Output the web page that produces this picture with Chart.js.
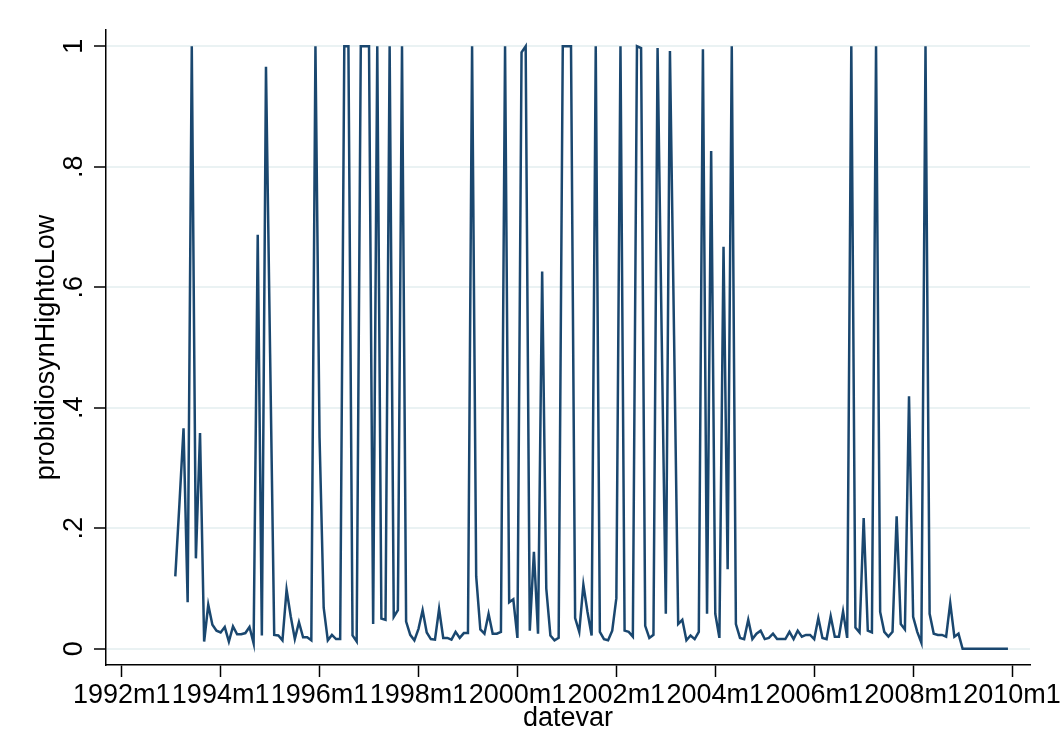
<!DOCTYPE html>
<html>
<head>
<meta charset="utf-8">
<script src="https://cdn.jsdelivr.net/npm/chart.js@4.4.1/dist/chart.umd.min.js"></script>
<style>
  html, body { margin: 0; padding: 0; background: #fff; }
  #wrap { width: 1060px; height: 736px; position: relative; }
</style>
</head>
<body>
<div id="wrap"><canvas id="myChart"></canvas></div>
<script>
// first month of the series, monthly data after that
const firstMonth = '1993m2'

// probidiosynHightoLow, one value per month, 1993m2 .. 2009m12
const probValues = [
  0.12, 0.24, 0.366, 0.077, 1.0, 0.15, 0.358, 0.012, 0.073, 0.04, 0.03,
  0.027, 0.036, 0.012, 0.037, 0.024, 0.024, 0.026, 0.036, 0.009, 0.687, 0.022, 0.966,
  0.49, 0.023, 0.022, 0.014, 0.098, 0.054, 0.016, 0.044, 0.019, 0.019, 0.014, 1.0,
  0.35, 0.068, 0.014, 0.023, 0.016, 0.016, 1.0, 1.0, 0.022, 0.012, 1.0, 1.0,
  1.0, 0.041, 1.0, 0.05, 0.048, 1.0, 0.053, 0.064, 1.0, 0.045, 0.023, 0.014,
  0.033, 0.064, 0.027, 0.016, 0.015, 0.066, 0.018, 0.018, 0.015, 0.028, 0.018, 0.026,
  0.026, 1.0, 0.12, 0.032, 0.025, 0.058, 0.025, 0.025, 0.028, 1.0, 0.077, 0.082,
  0.018, 0.99, 1.0, 0.03, 0.161, 0.025, 0.626, 0.1, 0.022, 0.014, 0.018, 1.0,
  1.0, 1.0, 0.051, 0.028, 0.106, 0.061, 0.022, 1.0, 0.028, 0.016, 0.014, 0.03,
  0.084, 1.0, 0.03, 0.028, 0.02, 1.0, 0.997, 0.038, 0.018, 0.023, 0.997, 0.52,
  0.058, 0.992, 0.52, 0.041, 0.048, 0.014, 0.022, 0.016, 0.028, 0.995, 0.058, 0.826,
  0.058, 0.018, 0.667, 0.132, 1.0, 0.041, 0.018, 0.016, 0.048, 0.016, 0.025, 0.03,
  0.016, 0.018, 0.025, 0.016, 0.016, 0.016, 0.028, 0.016, 0.03, 0.02, 0.023, 0.023,
  0.016, 0.051, 0.018, 0.016, 0.054, 0.02, 0.02, 0.062, 0.018, 1.0, 0.035, 0.027,
  0.217, 0.03, 0.027, 1.0, 0.061, 0.028, 0.02, 0.028, 0.22, 0.041, 0.032, 0.419,
  0.053, 0.028, 0.01, 1.0, 0.058, 0.025, 0.023, 0.023, 0.02, 0.076, 0.02, 0.025,
  0, 0, 0, 0, 0, 0, 0, 0, 0, 0, 0, 0
]

const xTickLabels = ['1992m1','1994m1','1996m1','1998m1','2000m1','2002m1','2004m1','2006m1','2008m1','2010m1']
const yTickValues = [0, 0.2, 0.4, 0.6, 0.8, 1]
const yTickLabels = ['0', '.2', '.4', '.6', '.8', '1']

// months counted from 1992m1
function monthIndex(s){
  var p = s.split('m')
  return (parseInt(p[0]) - 1992) * 12 + parseInt(p[1]) - 1
}

const start = monthIndex(firstMonth)
const points = probValues.map((v, i) => ({x: start + i, y: v}))
const xTickValues = xTickLabels.map(monthIndex)

const fontFamily = '"Liberation Sans", Arial, Helvetica, sans-serif'
const fontSize = 27
const navy = '#1a476f'

// Stata draws the y labels turned on their side
const rotatedYLabels = {
  id: 'rotatedYLabels',
  afterDraw(chart){
    const ctx = chart.ctx
    const y = chart.scales.y
    ctx.save()
    ctx.font = fontSize + 'px ' + fontFamily
    ctx.fillStyle = '#000'
    ctx.textAlign = 'center'
    ctx.textBaseline = 'middle'
    yTickValues.forEach((v, i) => {
      const py = y.getPixelForValue(v)
      ctx.save()
      ctx.translate(chart.chartArea.left - 31.5, py)
      ctx.rotate(-Math.PI / 2)
      ctx.fillText(yTickLabels[i], 0, 0)
      ctx.restore()
    })
    ctx.restore()
  }
}

const ctx = document.getElementById('myChart')

const data = {
  datasets: [{
    label: 'probidiosynHightoLow',
    data: points,
    borderColor: navy,
    backgroundColor: navy,
    borderWidth: 2.5,
    pointRadius: 0,
    tension: 0,
    fill: false
  }]
}

const config = {
  type: 'line',
  data: data,
  options: {
    responsive: true,
    maintainAspectRatio: false,
    animation: false,
    layout: { padding: { top: 30, right: 30, left: 0, bottom: 0 } },
    plugins: {
      legend: { display: false },
      tooltip: { enabled: false }
    },
    scales: {
      x: {
        type: 'linear',
        min: -3.81,
        max: 220.35,
        afterBuildTicks: s => { s.ticks = xTickValues.map(v => ({value: v})) },
        afterFit: s => { s.height = 71; s.paddingLeft = 0; s.paddingRight = 0 },
        ticks: {
          autoSkip: false,
          maxRotation: 0,
          minRotation: 0,
          padding: 2,
          color: '#000',
          font: { family: fontFamily, size: fontSize },
          callback: v => (1992 + v / 12) + 'm1'
        },
        grid: {
          drawOnChartArea: false,
          drawTicks: true,
          tickLength: 12,
          tickColor: '#000',
          tickWidth: 1.5
        },
        border: { display: true, color: '#000', width: 1.5 },
        title: {
          display: true,
          text: 'datevar',
          color: '#000',
          font: { family: fontFamily, size: fontSize },
          padding: { top: 0, bottom: 1 }
        }
      },
      y: {
        min: -0.027,
        max: 1.027,
        afterBuildTicks: s => { s.ticks = yTickValues.map(v => ({value: v})) },
        afterFit: s => { s.width = 106 },
        ticks: { display: false },
        grid: {
          color: '#eaf2f3',
          lineWidth: 2,
          drawTicks: true,
          tickLength: 12,
          tickColor: '#000',
          tickWidth: 1.5
        },
        border: { display: true, color: '#000', width: 1.5 },
        title: {
          display: true,
          text: 'probidiosynHightoLow',
          color: '#000',
          font: { family: fontFamily, size: fontSize },
          padding: { top: 30, bottom: 0 }
        }
      }
    }
  },
  plugins: [rotatedYLabels]
}

const myChart = new Chart(ctx, config)
</script>
</body>
</html>
